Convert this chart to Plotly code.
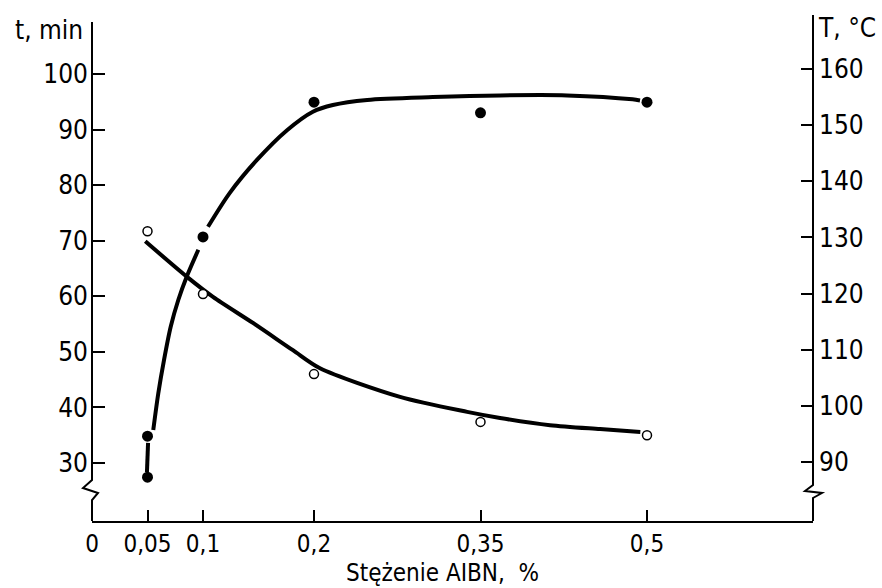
import plotly.graph_objects as go

# ---------------- data ----------------
# filled circles: temperature T, degC (right axis)
conc_T = [0.05, 0.05, 0.1, 0.2, 0.35, 0.5]
temp_T = [87.3, 94.6, 130.1, 154.1, 152.2, 154.1]

# open circles: time t, min (left axis)
conc_t = [0.05, 0.1, 0.2, 0.35, 0.5]
time_t = [71.7, 60.4, 46.0, 37.4, 35.0]

# hand-drawn fitted curves (None = pen gap)
curve_T_x = [0.0495, 0.0505, None,
             0.0552, 0.0597, 0.0649, 0.0709, 0.0778, 0.0853, 0.0958, None,
             0.1045, 0.124, 0.1486, 0.1757, 0.199, 0.217, 0.248, 0.307, 0.3676, 0.428, 0.487, 0.4937]
curve_T_y = [88.2, 93.4, None,
             95.7, 102.2, 108.2, 114.1, 118.9, 123.0, 127.8, None,
             131.9, 137.9, 143.8, 149.1, 152.4, 153.6, 154.5, 155.0, 155.3, 155.3, 154.6, 154.4]

curve_t_x = [0.048, 0.0856, 0.109, 0.145, 0.181, 0.205, 0.2775, 0.338, 0.3676, 0.4126, 0.4577, 0.494]
curve_t_y = [69.9, 63.5, 59.9, 55.2, 50.3, 47.1, 41.9, 39.2, 38.1, 36.8, 36.1, 35.6]

x_tickvals = [0, 0.05, 0.1, 0.2, 0.35, 0.5]
x_ticktext = ["0", "0,05", "0,1", "0,2", "0,35", "0,5"]
left_ticks = [30, 40, 50, 60, 70, 80, 90, 100]
right_ticks = [90, 100, 110, 120, 130, 140, 150, 160]

# ---------------- layout geometry ----------------
W_FIG, H_FIG = 882, 588
L, R, T, B = 92, 813, 15, 521
PW, PH = R - L, B - T

def px(x):
    return (x - L) / PW

def py(y):
    return (B - y) / PH

FONT = "Liberation Sans Narrow, DejaVu Sans Condensed, Roboto Condensed, Roboto, sans-serif"
FS = 26

fig = go.Figure()

fig.add_trace(go.Scatter(x=curve_T_x, y=curve_T_y, mode="lines", yaxis="y2",
                         line=dict(color="black", width=4, shape="spline", smoothing=0.8),
                         connectgaps=False, hoverinfo="skip", showlegend=False))
fig.add_trace(go.Scatter(x=curve_t_x, y=curve_t_y, mode="lines", yaxis="y",
                         line=dict(color="black", width=4, shape="spline", smoothing=0.8),
                         hoverinfo="skip", showlegend=False))
fig.add_trace(go.Scatter(x=conc_T, y=temp_T, mode="markers", yaxis="y2",
                         marker=dict(symbol="circle", size=11, color="black"),
                         showlegend=False))
fig.add_trace(go.Scatter(x=conc_t, y=time_t, mode="markers", yaxis="y",
                         marker=dict(symbol="circle", size=9, color="white",
                                     line=dict(color="black", width=1.5)),
                         showlegend=False))

# axis ranges derived from the pixel calibration of the reference
x_per_px = 0.05 / 55.5
y_left_range = [30 - (B - 463) / 5.557, 30 + (463 - T) / 5.557]
y_right_range = [90 - (B - 462) / 5.614, 90 + (462 - T) / 5.614]

fig.update_layout(
    width=W_FIG, height=H_FIG, autosize=False,
    margin=dict(l=L, r=W_FIG - R, t=T, b=H_FIG - B, pad=0),
    paper_bgcolor="white", plot_bgcolor="white",
    font=dict(family=FONT, size=FS, color="black"),
    xaxis=dict(range=[0, (R - L) * x_per_px], tickvals=x_tickvals, ticktext=x_ticktext,
               ticks="inside", ticklen=11, tickwidth=2, tickcolor="black",
               showline=True, linecolor="black", linewidth=2,
               showgrid=False, zeroline=False, ticklabelstandoff=0,
               tickfont=dict(family=FONT, size=24)),
    yaxis=dict(range=y_left_range, tickvals=left_ticks,
               ticks="inside", ticklen=13, tickwidth=2, tickcolor="black",
               showline=False, showgrid=False, zeroline=False,
               ticklabelstandoff=3,
               tickfont=dict(family=FONT, size=FS)),
    yaxis2=dict(range=y_right_range, tickvals=right_ticks, overlaying="y", side="right",
                ticks="inside", ticklen=12, tickwidth=2, tickcolor="black",
                showline=False, showgrid=False, zeroline=False,
                ticklabelstandoff=5,
                tickfont=dict(family=FONT, size=FS)),
)

# y-axis lines with break zigzags
def path(points):
    s = "M {} {}".format(px(points[0][0]), py(points[0][1]))
    for x, y in points[1:]:
        s += " L {} {}".format(px(x), py(y))
    return s

left_axis = [(92, 22), (92, 480), (83, 488), (98, 493), (92, 500), (92, 521)]
right_axis = [(813, 15), (813, 485), (805, 491), (822, 493), (813, 498), (813, 521)]
for pts in (left_axis, right_axis):
    fig.add_shape(type="path", path=path(pts), xref="paper", yref="paper",
                  line=dict(color="black", width=2), layer="above")

fig.add_annotation(text="t, min", x=px(85), y=py(30), xref="paper", yref="paper",
                   xanchor="right", yanchor="middle", showarrow=False,
                   font=dict(family=FONT, size=FS))
fig.add_annotation(text="T,\u00a0\u00b0C", x=px(816), y=py(28), xref="paper", yref="paper",
                   xanchor="left", yanchor="middle", showarrow=False,
                   font=dict(family=FONT, size=FS))
fig.add_annotation(text="Stężenie AIBN,\u00a0 %", x=px(442), y=py(573), xref="paper", yref="paper",
                   xanchor="center", yanchor="middle", showarrow=False,
                   font=dict(family=FONT, size=24))

fig.write_html("out.html")
